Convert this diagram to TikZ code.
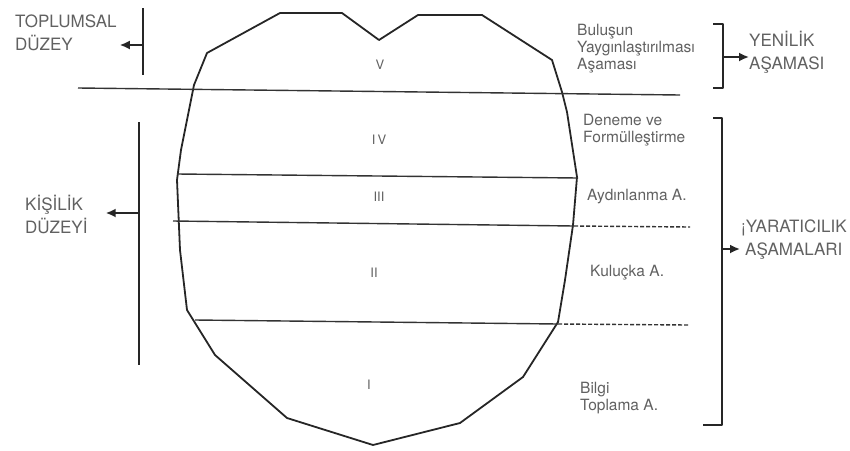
\documentclass[tikz,border=0pt]{standalone}
\usepackage{fontspec}
\setmainfont{TeX Gyre Heros}
\usetikzlibrary{arrows.meta}

\begin{document}
\begin{tikzpicture}[
   x=1pt,y=-1pt,
   every node/.style={text=black!62,inner sep=0pt},
   stagetext/.style={anchor=west,align=left,font=\fontsize{15.5}{17}\selectfont},
   sidehead/.style={anchor=west,align=left,font=\fontsize{17}{23}\selectfont},
   stagenum/.style={font=\fontsize{13}{15}\selectfont},
   rim/.style={line width=1.8pt,black!85,line join=round},
   cutline/.style={line width=1.4pt,black!80},
   dashcut/.style={cutline,dash pattern=on 4pt off 2pt},
   pointer/.style={line width=1.8pt,black!85,-{Latex[length=10pt,width=9pt]}},
]
\useasboundingbox (0,0) rectangle (850,450);

% heart outline
\draw[rim] (280,13) -- (342,13) -- (379,40) -- (418,15) -- (482,15) -- (552,60)
   -- (562,92) -- (567,112) -- (577,177) -- (573,225) -- (565,280) -- (558,322)
   -- (523,377) -- (460,423) -- (373,445) -- (287,418) -- (215,355) -- (187,310)
   -- (180,250) -- (177,180) -- (181,150) -- (187,120) -- (194,85) -- (207,53) -- cycle;

% stage borders
\coordinate (b5a) at (78,88);   \coordinate (b5b) at (680,95);
\coordinate (b4a) at (177,174); \coordinate (b4b) at (578,178);
\coordinate (b3a) at (173,221); \coordinate (b3b) at (574,226); \coordinate (b3c) at (690,227);
\coordinate (b2a) at (195,320); \coordinate (b2b) at (558,324); \coordinate (b2c) at (688,325);
\draw[cutline] (b5a) -- (b5b);
\draw[cutline] (b4a) -- (b4b);
\draw[cutline] (b3a) -- (b3b);
\draw[dashcut] (b3b) -- (b3c);
\draw[cutline] (b2a) -- (b2b);
\draw[dashcut] (b2b) -- (b2c);

% roman numerals
\node[stagenum] (n5) at (380,65) {V};
\node[stagenum] (n4) at (379,140) {I\,V};
\node[stagenum] (n3) at (379,197) {III};
\node[stagenum] (n2) at (374,273) {II};
\node[stagenum] (n1) at (369,385) {I};

% stage names
\node[stagetext] (yay) at (577,49) {Buluşun\\Yaygınlaştırılması\\Aşaması};
\node[stagetext] (den) at (583,130) {Deneme ve\\Formülleştirme};
\node[stagetext] (ayd) at (587,197) {Aydınlanma A.};
\node[stagetext] (kul) at (590,273) {Kuluçka A.};
\node[stagetext] (bil) at (580,398) {Bilgi\\Toplama A.};

% right brackets
\node[sidehead] (yen) at (749,52) {YENİLİK\\AŞAMASI};
\node[sidehead] (yar) at (741,240) {¡YARATICILIK\\\hspace*{4pt}AŞAMALARI};
\draw[rim] (713,24) -- (723,24) -- (723,88) -- (713,88);
\draw[rim] (713,118) -- (722,118) -- (722,425) -- (703,425);
\coordinate (yenfoot) at (723,57);
\coordinate (yarfoot) at (722,249);
\draw[pointer] (yenfoot) -- (yen.west |- yenfoot);
\draw[pointer] (yarfoot) -- ([xshift=-1pt]yar.west |- yarfoot);

% left bars
\node[sidehead] (top) at (15,33) {TOPLUMSAL\\DÜZEY};
\node[sidehead] (kis) at (25,214) {KİŞİLİK\\DÜZEYİ};
\draw[rim] (143,8) -- (143,75);
\draw[rim] (139,122) -- (139,365);
\coordinate (topfoot) at (143,45);
\coordinate (kisfoot) at (139,213);
\draw[pointer] (topfoot) -- ([xshift=3pt]top.east |- topfoot);
\draw[pointer] (kisfoot) -- ([xshift=18pt]kis.east |- kisfoot);
\end{tikzpicture}
\end{document}
